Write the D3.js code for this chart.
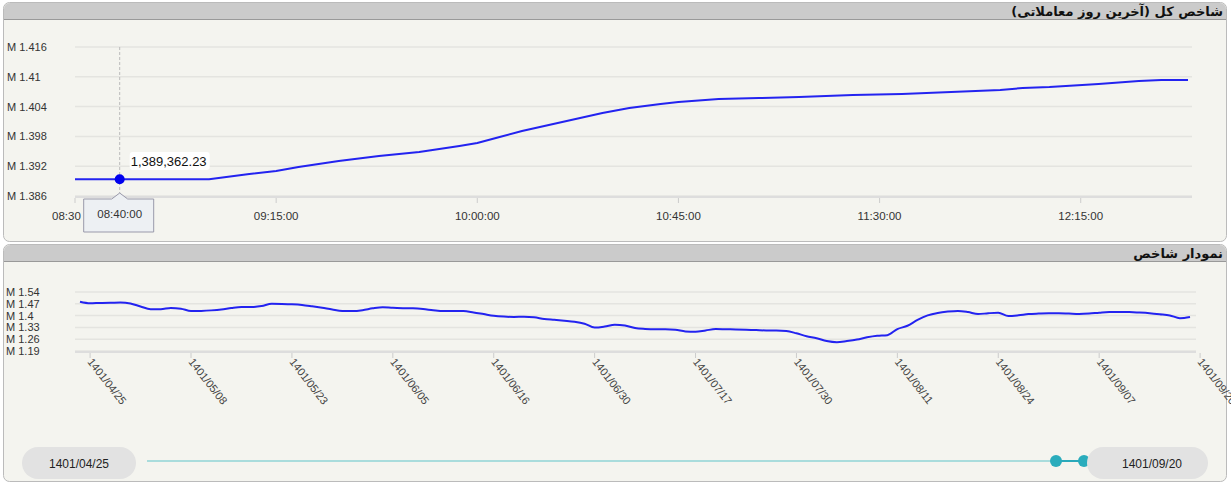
<!DOCTYPE html>
<html><head><meta charset="utf-8">
<script src="https://cdn.jsdelivr.net/npm/d3@7"></script>
<style>body{margin:0;background:#fff;font-family:Arial,"Liberation Sans",sans-serif}</style>
</head><body><svg id="c" width="1231" height="484"></svg>
<script>
// ---- top chart data (last trading day) ----
const intradayTimes = ["08:30","09:00","09:09","09:15","09:20","09:29","09:38","09:47","09:56","10:00","10:05","10:10","10:15","10:21","10:28","10:34","10:41","10:45","10:54","11:03","11:12","11:24","11:35","11:46","11:57","12:02","12:08","12:19","12:28","12:33","12:39"];
const intradayValues = [1.389362,1.389362,1.39043,1.39104,1.39184,1.39305,1.39406,1.39486,1.39607,1.39668,1.39788,1.39909,1.40010,1.40130,1.40271,1.40372,1.40453,1.40493,1.40553,1.40573,1.40594,1.40634,1.40654,1.40694,1.40734,1.40775,1.40795,1.40855,1.40916,1.40936,1.40936];
const intradayYTicks = [1.386,1.392,1.398,1.404,1.41,1.416];
const intradayXTicks = ["08:30","09:15","10:00","10:45","11:30","12:15"];
const tooltipTime = "08:40";
const tooltipLabel = "1,389,362.23";
const tooltipValue = 1.389362;
// ---- bottom chart data (daily index) ----
const dailyValues = [1.482,1.473,1.475,1.476,1.478,1.472,1.454,1.438,1.438,1.445,1.441,1.427,1.428,1.431,1.436,1.445,1.451,1.451,1.457,1.470,1.469,1.467,1.463,1.455,1.446,1.436,1.428,1.427,1.432,1.443,1.450,1.446,1.444,1.443,1.439,1.432,1.427,1.427,1.427,1.419,1.409,1.399,1.394,1.392,1.393,1.390,1.380,1.375,1.370,1.364,1.352,1.329,1.335,1.346,1.341,1.326,1.321,1.319,1.319,1.316,1.306,1.304,1.312,1.320,1.319,1.318,1.316,1.314,1.312,1.312,1.309,1.295,1.278,1.266,1.249,1.242,1.249,1.258,1.271,1.280,1.284,1.320,1.340,1.374,1.401,1.416,1.424,1.428,1.421,1.409,1.414,1.417,1.398,1.402,1.409,1.412,1.414,1.414,1.412,1.410,1.412,1.417,1.421,1.421,1.421,1.418,1.414,1.408,1.401,1.385,1.392];
const dailyYTicks = [1.19,1.26,1.33,1.4,1.47,1.54];
const dailyTickLabels = ["1401/04/25","1401/05/08","1401/05/23","1401/06/05","1401/06/16","1401/06/30","1401/07/17","1401/07/30","1401/08/11","1401/08/24","1401/09/07","1401/09/20"];
const dailyTickIndex = [1,11,21,31,41,51,61,71,81,91,101,111];
const rangeStart = "1401/04/25", rangeEnd = "1401/09/20";
const title1 = "شاخص کل (آخرین روز معاملاتی)", title2 = "نمودار شاخص";

const svg = d3.select("#c");
const tp = d3.timeParse("%H:%M");
function panel(y0,h,title){
  svg.append("rect").attr("x",3.5).attr("y",y0+.5).attr("width",1223).attr("height",h).attr("rx",6).attr("fill","#f4f4ef").attr("stroke","#bbb");
  svg.append("path").attr("d",`M4,${y0+17} V${y0+7} a6,6 0 0 1 6,-6 H1220 a6,6 0 0 1 6,6 V${y0+17}Z`).attr("fill","#cbcbcb");
  svg.append("line").attr("x1",4).attr("x2",1226).attr("y1",y0+17.5).attr("y2",y0+17.5).attr("stroke","#999");
  svg.append("text").attr("x",1223).attr("y",y0+14).attr("text-anchor","start").attr("direction","rtl").attr("font-family","DejaVu Sans").attr("font-weight","bold").attr("font-size",13).attr("fill","#111").text(title);
}
panel(2,239,title1);
panel(244,237,title2);

// top chart
const x1 = d3.scaleTime().domain([tp("08:30"),tp("12:39")]).range([75,1188]);
const y1 = d3.scaleLinear().domain([1.386,1.416]).range([196,47]);
const g1 = svg.append("g");
g1.selectAll(".gl").data(intradayYTicks).join("line").attr("x1",75).attr("x2",1192).attr("y1",d=>y1(d)).attr("y2",d=>y1(d)).attr("stroke","#e4e4e0").attr("stroke-width",1.5);
g1.append("line").attr("x1",75).attr("x2",1192).attr("y1",197).attr("y2",197).attr("stroke","#ddd").attr("stroke-width",2);
g1.selectAll(".yl").data(intradayYTicks).join("text").attr("x",7).attr("y",d=>y1(d)+4).attr("font-size",11).attr("fill","#333").text(d=>"M "+d);
g1.selectAll(".xt").data(intradayXTicks).join("line").attr("x1",d=>x1(tp(d))).attr("x2",d=>x1(tp(d))).attr("y1",198).attr("y2",203).attr("stroke","#ccc");
g1.selectAll(".xl").data(intradayXTicks).join("text").attr("x",d=>x1(tp(d))).attr("y",220).attr("text-anchor",(d,i)=>i==0?"start":"middle").attr("dx",(d,i)=>i==0?-23:0).attr("font-size",11.5).attr("fill","#333").text((d,i)=>i==0?d:d+":00");
g1.append("path").datum(intradayValues).attr("fill","none").attr("stroke","#2323f0").attr("stroke-width",2)
  .attr("d",d3.line().x((d,i)=>x1(tp(intradayTimes[i]))).y(d=>y1(d)));
const tx = x1(tp(tooltipTime));
g1.append("line").attr("x1",tx).attr("x2",tx).attr("y1",47).attr("y2",197).attr("stroke","#bbb").attr("stroke-dasharray","3,2");
g1.append("circle").attr("cx",tx).attr("cy",y1(tooltipValue)).attr("r",5).attr("fill","#0000ee");
g1.append("rect").attr("x",tx+10).attr("y",152).attr("width",80).attr("height",18).attr("rx",3).attr("fill","#fff");
g1.append("text").attr("x",tx+11).attr("y",166).attr("font-size",13).attr("fill","#111").text(tooltipLabel);
g1.append("path").attr("d",`M${tx-36},199 H${tx-8} L${tx},193 L${tx+8},199 H${tx+34} V232 H${tx-36}Z`).attr("fill","#edf0f3").attr("stroke","#99a");
g1.append("text").attr("x",tx).attr("y",218).attr("text-anchor","middle").attr("font-size",11.5).attr("fill","#333").text(tooltipTime+":00");

// bottom chart
const x2 = d3.scaleLinear().domain([0,dailyValues.length-1]).range([80,1190]);
const y2 = d3.scaleLinear().domain([1.19,1.54]).range([351,292]);
const g2 = svg.append("g");
g2.selectAll(".gl").data(dailyYTicks).join("line").attr("x1",75).attr("x2",1196).attr("y1",d=>y2(d)).attr("y2",d=>y2(d)).attr("stroke","#e4e4e0").attr("stroke-width",1.5);
g2.append("line").attr("x1",75).attr("x2",1196).attr("y1",352).attr("y2",352).attr("stroke","#ddd").attr("stroke-width",2);
g2.selectAll(".yl").data(dailyYTicks).join("text").attr("x",6).attr("y",d=>y2(d)+4).attr("font-size",11).attr("fill","#333").text(d=>"M "+d);
g2.selectAll(".xt").data(dailyTickIndex).join("line").attr("x1",d=>x2(d)).attr("x2",d=>x2(d)).attr("y1",353).attr("y2",358).attr("stroke","#ccc");
g2.selectAll(".xl").data(dailyTickLabels).join("text").attr("transform",(d,i)=>`translate(${x2(dailyTickIndex[i])-3},${362}) rotate(52)`).attr("font-size",11).attr("fill","#444").text(d=>d);
g2.append("path").datum(dailyValues).attr("fill","none").attr("stroke","#2323f0").attr("stroke-width",2)
  .attr("d",d3.line().x((d,i)=>x2(i)).y(d=>y2(d)).curve(d3.curveMonotoneX));

// slider
svg.append("line").attr("x1",147).attr("x2",1056).attr("y1",461).attr("y2",461).attr("stroke","#a9dcdc").attr("stroke-width",2);
svg.append("line").attr("x1",1056).attr("x2",1084).attr("y1",461).attr("y2",461).attr("stroke","#2aa9ba").attr("stroke-width",2);
svg.selectAll(".h").data([1056,1084]).join("circle").attr("cx",d=>d).attr("cy",461).attr("r",6).attr("fill","#2aacbc");
svg.append("rect").attr("x",22).attr("y",447).attr("width",114).attr("height",32).attr("rx",16).attr("fill","#e2e2e2");
svg.append("text").attr("x",79).attr("y",468).attr("text-anchor","middle").attr("font-size",12).attr("fill","#222").text(rangeStart);
svg.append("rect").attr("x",1087).attr("y",447).attr("width",121).attr("height",32).attr("rx",16).attr("fill","#e2e2e2");
svg.append("text").attr("x",1152).attr("y",468).attr("text-anchor","middle").attr("font-size",12).attr("fill","#222").text(rangeEnd);
</script></body></html>
